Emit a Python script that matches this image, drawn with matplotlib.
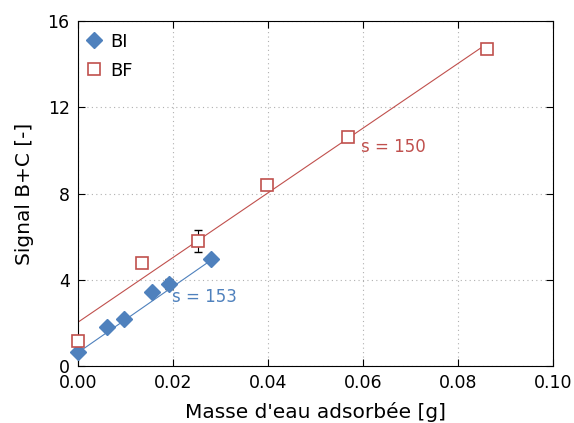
import matplotlib
matplotlib.use("Agg")
import matplotlib.pyplot as plt
import numpy as np

bi_x = [0.0, 0.0061, 0.0097, 0.0156, 0.0192, 0.0280]
bi_y = [0.65, 1.81, 2.18, 3.43, 3.80, 4.96]
bi_err = [0, 0, 0, 0, 0.25, 0]

bf_x = [0.0, 0.0135, 0.0253, 0.0399, 0.0569, 0.0861]
bf_y = [1.16, 4.78, 5.80, 8.40, 10.64, 14.70]
bf_err = [0, 0, 0.5, 0, 0, 0]

bi_fit = (153, 0.62)
bf_fit = (150, 2.03)

blue = "#4f81bd"
red = "#c0504d"

fig = plt.figure(figsize=(5.74, 4.23), dpi=100)
ax = fig.add_axes([0.136, 0.135, 0.827, 0.815])

xx = np.array([0.0, bf_x[-1]])
ax.plot(xx, bf_fit[1] + bf_fit[0] * xx, color=red, lw=0.8, zorder=2)
xb = np.array([0.0, bi_x[-1]])
ax.plot(xb, bi_fit[1] + bi_fit[0] * xb, color=blue, lw=0.8, zorder=2)

ax.errorbar(bi_x, bi_y, yerr=[e if e else np.nan for e in bi_err], fmt="none", ecolor="black", elinewidth=0.8, capsize=3, zorder=3)
ax.errorbar(bf_x, bf_y, yerr=[e if e else np.nan for e in bf_err], fmt="none", ecolor="black", elinewidth=0.8, capsize=3, zorder=3)

ax.plot(bi_x, bi_y, linestyle="none", marker="D", ms=8, color=blue, mec=blue, label="BI", zorder=4, clip_on=False)
ax.plot(bf_x, bf_y, linestyle="none", marker="s", ms=8, mfc="white", mec=red, mew=1.2, label="BF", zorder=4, clip_on=False)

ax.text(0.0198, 2.95, "s = 153", color=blue, fontsize=12)
ax.text(0.0597, 9.95, "s = 150", color=red, fontsize=12)

ax.set_xlim(0, 0.10)
ax.set_ylim(0, 16)
ax.set_xticks([0, 0.02, 0.04, 0.06, 0.08, 0.10])
ax.set_xticklabels(["0.00", "0.02", "0.04", "0.06", "0.08", "0.10"])
ax.set_yticks([0, 4, 8, 12, 16])
ax.tick_params(direction="in", top=True, right=True, labelsize=12.5, length=5)
ax.tick_params(axis="x", pad=6)
ax.tick_params(axis="y", pad=6)
ax.grid(True, linestyle=(0, (1, 3)), color="#b0b0b0", lw=0.8)
ax.set_xlabel("Masse d'eau adsorbée [g]", fontsize=14.5, labelpad=7)
ax.set_ylabel("Signal B+C [-]", fontsize=14.5, labelpad=10)

ax.legend(loc="upper left", bbox_to_anchor=(0.0, 0.982), frameon=False, fontsize=13,
          handletextpad=0.3, handlelength=1.2, borderaxespad=0.1, borderpad=0.2,
          labelspacing=0.6)

fig.savefig("out.png", dpi=100)
